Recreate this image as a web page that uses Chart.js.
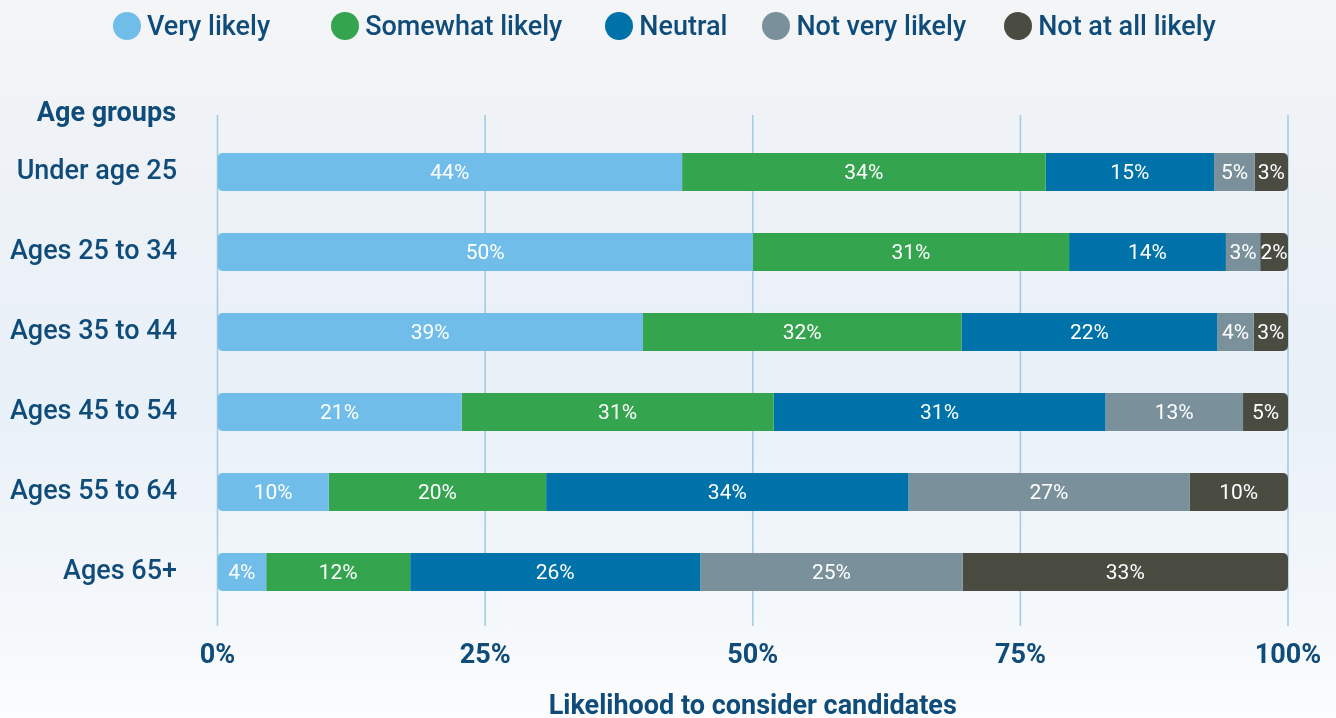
<!DOCTYPE html>
<html>
<head>
<meta charset="utf-8">
<script src="https://cdn.jsdelivr.net/npm/chart.js@4.4.1/dist/chart.umd.min.js"></script>
<style>
  html, body { margin: 0; padding: 0; }
  body {
    width: 1336px; height: 718px; overflow: hidden; position: relative;
    font-family: Roboto, sans-serif;
    background: linear-gradient(180deg, #f4f5f7 0%, #eef2f6 25%, #e8f0f8 55%, #f2f6fa 80%, #fbfcfd 100%);
  }
  #legend {
    position: absolute; top: 0; left: 0; width: 1336px; height: 51px; z-index: 2;
    display: flex; justify-content: flex-start; align-items: center;
    box-sizing: border-box; padding-left: 113px;
  }
  .item { display: flex; align-items: center; color: #104c79; font: 500 27px Roboto, sans-serif; white-space: nowrap; }
  .dot { width: 28px; height: 28px; border-radius: 50%; margin-right: 6px; }
  canvas { position: absolute; left: 0; top: 0; }
</style>
</head>
<body>
<div id="legend"></div>
<canvas id="likelihoodChart" width="1336" height="718"></canvas>
<script>
// categorias y series
const ageGroups = ['Under age 25', 'Ages 25 to 34', 'Ages 35 to 44', 'Ages 45 to 54', 'Ages 55 to 64', 'Ages 65+'];
const seriesNames = ['Very likely', 'Somewhat likely', 'Neutral', 'Not very likely', 'Not at all likely'];
const seriesColors = ['#70bdea', '#34a44f', '#0072aa', '#7a919c', '#4a4c41'];

// bar lengths (% of each row)
const veryLikely     = [43.4, 50.0, 39.75, 22.8, 10.4, 4.55];
const somewhatLikely = [33.95, 29.55, 29.75, 29.15, 20.3, 13.45];
const neutral        = [15.75, 14.65, 23.9, 31.0, 33.85, 27.1];
const notVeryLikely  = [3.8, 3.2, 3.4, 12.85, 26.25, 24.5];
const notAtAllLikely = [3.1, 2.6, 3.2, 4.2, 9.2, 30.4];

// printed labels on the bars
const veryLikelyLabels     = [44, 50, 39, 21, 10, 4];
const somewhatLikelyLabels = [34, 31, 32, 31, 20, 12];
const neutralLabels        = [15, 14, 22, 31, 34, 26];
const notVeryLikelyLabels  = [5, 3, 4, 13, 27, 25];
const notAtAllLikelyLabels = [3, 2, 3, 5, 10, 33];

const xTicks = [0, 25, 50, 75, 100];

const seriesValues = [veryLikely, somewhatLikely, neutral, notVeryLikely, notAtAllLikely];
const seriesLabels = [veryLikelyLabels, somewhatLikelyLabels, neutralLabels, notVeryLikelyLabels, notAtAllLikelyLabels];

const textColor = '#104c79';
// espacio antes de cada entrada de la leyenda
const legendGaps = [0, 61, 43, 35, 38];

// leyenda en HTML
const legend = document.getElementById('legend');
seriesNames.forEach((name, i) => {
    const item = document.createElement('div');
    item.className = 'item';
    item.style.marginLeft = legendGaps[i] + 'px';
    item.innerHTML = `<span class="dot" style="background:${seriesColors[i]}"></span><span>${name}</span>`;
    legend.appendChild(item);
});

// vertical grid lines that run a little past the bars, plus the "Age groups" heading
const longGrid = {
    id: 'longGrid',
    beforeDatasetsDraw(chart) {
        const { ctx, chartArea, scales } = chart;
        ctx.save();
        ctx.strokeStyle = '#a6cbe2';
        ctx.lineWidth = 1.6;
        scales.x.ticks.forEach(t => {
            const px = scales.x.getPixelForValue(t.value);
            ctx.beginPath();
            ctx.moveTo(px, chartArea.top - 17);
            ctx.lineTo(px, chartArea.bottom + 14);
            ctx.stroke();
        });
        ctx.font = '700 27px Roboto';
        ctx.fillStyle = textColor;
        ctx.textAlign = 'right';
        ctx.textBaseline = 'alphabetic';
        ctx.fillText('Age groups', chartArea.left - 41.5, chartArea.top - 11.5);
        ctx.restore();
    }
};

// percentage labels inside each segment
const barLabels = {
    id: 'barLabels',
    afterDatasetsDraw(chart) {
        const ctx = chart.ctx;
        ctx.save();
        ctx.font = '400 21px Roboto';
        ctx.fillStyle = '#ffffff';
        ctx.textAlign = 'center';
        ctx.textBaseline = 'middle';
        chart.data.datasets.forEach((ds, i) => {
            chart.getDatasetMeta(i).data.forEach((bar, j) => {
                const p = bar.getCenterPoint();
                ctx.fillText(seriesLabels[i][j] + '%', p.x, p.y + 2);
            });
        });
        ctx.restore();
    }
};

const last = seriesValues.length - 1;

new Chart(document.getElementById('likelihoodChart'), {
    type: 'bar',
    data: {
        labels: ageGroups,
        datasets: seriesValues.map((vals, i) => ({
            label: seriesNames[i],
            data: vals,
            backgroundColor: seriesColors[i],
            borderWidth: 0,
            borderSkipped: false,
            borderRadius: i === 0 ? { topLeft: 5, bottomLeft: 5, topRight: 0, bottomRight: 0 }
                        : i === last ? { topLeft: 0, bottomLeft: 0, topRight: 5, bottomRight: 5 }
                        : 0,
            barPercentage: 0.475,
            categoryPercentage: 1
        }))
    },
    options: {
        indexAxis: 'y',
        responsive: false,
        animation: false,
        layout: { padding: { top: 132, right: 48, bottom: 0, left: 0 } },
        plugins: {
            legend: { display: false },
            tooltip: { enabled: false }
        },
        scales: {
            x: {
                stacked: true,
                min: 0,
                max: 100,
                afterBuildTicks: (s) => { s.ticks = xTicks.map(v => ({ value: v })); },
                border: { display: false },
                grid: { display: false },
                ticks: {
                    padding: 20,
                    maxRotation: 0,
                    color: textColor,
                    font: { family: 'Roboto', size: 27, weight: '700' },
                    callback: v => v + '%'
                },
                title: {
                    display: true,
                    text: 'Likelihood to consider candidates',
                    color: textColor,
                    font: { family: 'Roboto', size: 27, weight: '700', lineHeight: 1 },
                    padding: { top: 0, bottom: -3 }
                },
                afterFit: (s) => { s.height = 106; s.paddingLeft = 0; s.paddingRight = 0; }
            },
            y: {
                stacked: true,
                border: { display: false },
                grid: { display: false },
                ticks: {
                    padding: 32.5,
                    color: textColor,
                    font: { family: 'Roboto', size: 27, weight: '500' }
                },
                afterFit: (s) => { s.width = 217.5; }
            }
        }
    },
    plugins: [longGrid, barLabels]
});
</script>
</body>
</html>
